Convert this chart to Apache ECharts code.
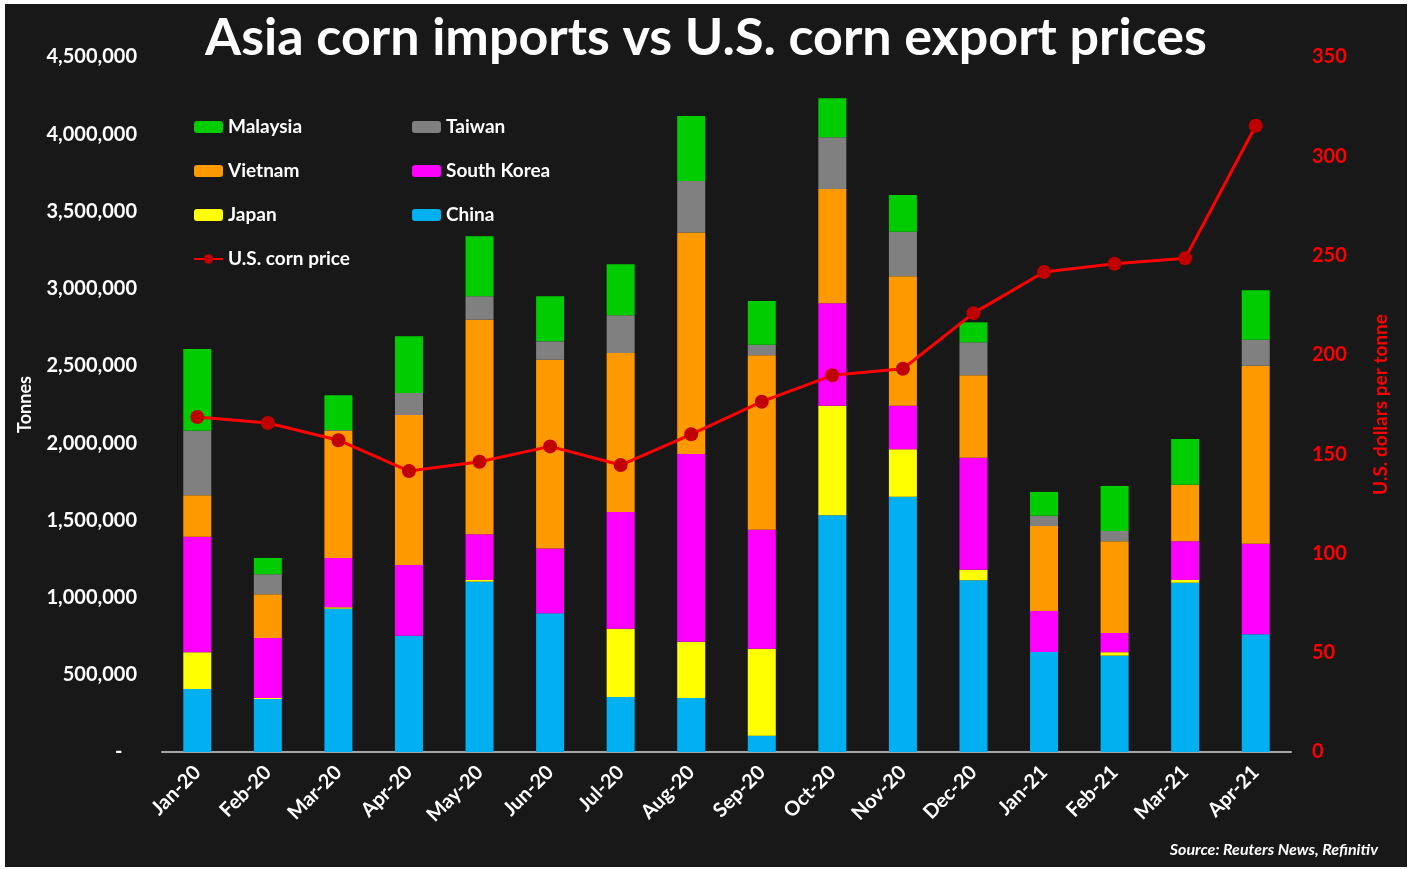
<!DOCTYPE html>
<html>
<head>
<meta charset="utf-8">
<title>Asia corn imports vs U.S. corn export prices</title>
<script src="https://cdn.jsdelivr.net/npm/echarts@6.0.0/dist/echarts.min.js"></script>
<style>
  html, body { margin: 0; padding: 0; background: #ffffff; }
  #chart { position: absolute; left: 5px; top: 4px; width: 1402px; height: 863px; background: #181818; }
</style>
</head>
<body>
<div id="chart"></div>
<script>
// months on the x axis
const months = ['Jan-20', 'Feb-20', 'Mar-20', 'Apr-20', 'May-20', 'Jun-20', 'Jul-20', 'Aug-20',
  'Sep-20', 'Oct-20', 'Nov-20', 'Dec-20', 'Jan-21', 'Feb-21', 'Mar-21', 'Apr-21'];

// imports in tonnes, stacked bottom to top
const china = [408000, 343000, 928000, 753000, 1103000, 898000, 356000, 350000, 106000, 1533000, 1653000, 1112000, 648000, 624000, 1096000, 762000];
const japan = [238000, 7000, 9000, 0, 11000, 0, 442000, 364000, 563000, 709000, 307000, 68000, 0, 22000, 18000, 0];
const southKorea = [748000, 388000, 319000, 458000, 296000, 419000, 756000, 1216000, 770000, 663000, 282000, 726000, 265000, 125000, 250000, 587000];
const vietnam = [268000, 283000, 824000, 971000, 1389000, 1223000, 1030000, 1433000, 1130000, 740000, 838000, 533000, 550000, 593000, 367000, 1152000];
const taiwan = [418000, 130000, 5000, 143000, 152000, 119000, 244000, 334000, 68000, 335000, 289000, 214000, 67000, 67000, 0, 169000];
const malaysia = [529000, 105000, 225000, 367000, 388000, 292000, 330000, 421000, 283000, 253000, 238000, 129000, 154000, 291000, 296000, 320000];

// U.S. corn export price, USD per tonne
const cornPrice = [168.7, 165.7, 157, 141.5, 146.2, 153.9, 144.5, 160, 176.4, 189.7, 193, 221, 241.7, 245.9, 248.6, 315.4];

const FONT = 'Lato, "Open Sans", sans-serif';

const chart = echarts.init(document.getElementById('chart'));

function barSeries(name, data, color) {
  return {
    name: name,
    type: 'bar',
    stack: 'imports',
    barWidth: 28,
    data: data,
    itemStyle: { color: color }
  };
}

const legendText = { color: '#ffffff', fontSize: 19, fontWeight: 'bold', lineHeight: 20 };

const option = {
  backgroundColor: '#181818',
  textStyle: { fontFamily: FONT },
  title: {
    text: 'Asia corn imports vs U.S. corn export prices',
    left: 'center',
    top: 8,
    padding: 0,
    textStyle: { color: '#ffffff', fontSize: 52, fontWeight: 'bold', fontFamily: FONT }
  },
  legend: [
    {
      left: 188, top: 113, orient: 'vertical', padding: 0,
      itemWidth: 29, itemHeight: 12, itemGap: 24,
      data: ['Malaysia', 'Vietnam', 'Japan', 'U.S. corn price'],
      textStyle: legendText
    },
    {
      left: 407, top: 113, orient: 'vertical', padding: 0,
      itemWidth: 29, itemHeight: 12, itemGap: 24,
      data: ['Taiwan', 'South Korea', 'China'],
      textStyle: legendText
    }
  ],
  grid: { left: 157, right: 116, top: 53, bottom: 115 },
  xAxis: {
    type: 'category',
    data: months,
    axisLine: { lineStyle: { color: '#a6a6a6', width: 2 } },
    axisTick: { show: false },
    axisLabel: {
      interval: 0, rotate: 45, margin: 17,
      color: '#ffffff', fontSize: 20, fontWeight: 'bold'
    }
  },
  yAxis: [
    {
      type: 'value',
      min: 0, max: 4500000, interval: 500000,
      name: 'Tonnes',
      nameLocation: 'middle',
      nameRotate: 90,
      nameGap: 128,
      nameTextStyle: { color: '#ffffff', fontSize: 18, fontWeight: 'bold' },
      axisLine: { show: false },
      axisTick: { show: false },
      splitLine: { show: false },
      axisLabel: {
        margin: 25, color: '#ffffff', fontSize: 20, fontWeight: 'bold',
        formatter: v => v === 0 ? '-   ' : v.toLocaleString('en-US')
      }
    },
    {
      type: 'value',
      min: 0, max: 350, interval: 50,
      name: 'U.S. dollars per tonne',
      nameLocation: 'middle',
      nameRotate: 90,
      nameGap: 80,
      nameTextStyle: { color: '#ff0000', fontSize: 19, fontWeight: 'bold' },
      axisLine: { show: false },
      axisTick: { show: false },
      splitLine: { show: false },
      axisLabel: { margin: 21, color: '#ff0000', fontSize: 20, fontWeight: 'bold' }
    }
  ],
  series: [
    barSeries('China', china, '#00b0f0'),
    barSeries('Japan', japan, '#ffff00'),
    barSeries('South Korea', southKorea, '#ff00ff'),
    barSeries('Vietnam', vietnam, '#ff9900'),
    barSeries('Taiwan', taiwan, '#808080'),
    barSeries('Malaysia', malaysia, '#00cc00'),
    {
      name: 'U.S. corn price',
      type: 'line',
      yAxisIndex: 1,
      data: cornPrice,
      symbol: 'circle',
      symbolSize: 14,
      z: 5,
      lineStyle: { color: '#ff0000', width: 3 },
      itemStyle: { color: '#c00000' }
    }
  ],
  graphic: [
    {
      type: 'text',
      right: 29,
      top: 838,
      style: {
        text: 'Source: Reuters News, Refinitiv',
        fill: '#ffffff',
        font: 'italic bold 16px ' + FONT
      }
    }
  ]
};

chart.setOption(option);
</script>
</body>
</html>
